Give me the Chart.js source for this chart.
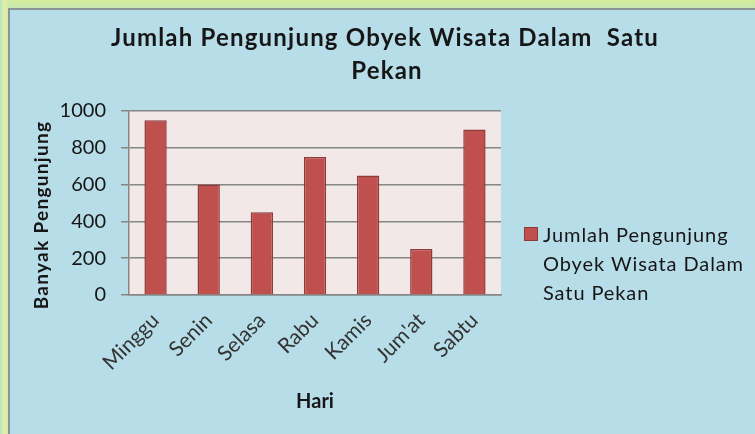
<!DOCTYPE html>
<html>
<head>
<meta charset="utf-8">
<script src="https://cdn.jsdelivr.net/npm/chart.js@4.4.1/dist/chart.umd.min.js"></script>
<style>
  html, body { margin: 0; padding: 0; background: #b7dde8; }
  #wrap { width: 755px; height: 434px; position: relative; }
</style>
</head>
<body>
<div id="wrap"><canvas id="chart"></canvas></div>
<script>
// data
const days = ['Minggu', 'Senin', 'Selasa', 'Rabu', 'Kamis', "Jum'at", 'Sabtu'];
const visitors = [950, 600, 450, 750, 650, 250, 900];
const yMin = 0;
const yMax = 1000;
const yStep = 200;
const chartTitle = ['Jumlah Pengunjung Obyek Wisata Dalam  Satu', 'Pekan'];
const seriesName = 'Jumlah Pengunjung Obyek Wisata Dalam Satu Pekan';
const legendLines = ['Jumlah Pengunjung', 'Obyek Wisata Dalam', 'Satu Pekan'];
const yTitle = 'Banyak Pengunjung';
const xTitle = 'Hari';

const FONT = 'Lato, "Open Sans", sans-serif';
const BAR = '#c0504d';
const BAR_EDGE = '#8e3a38';
const GRID = '#868686';

// frame, plot background, title, y title and wrapped legend (Excel style)
const excelDecor = {
  id: 'excelDecor',
  beforeDraw(chart) {
    const { ctx, chartArea: a, width, height } = chart;
    ctx.save();
    ctx.fillStyle = '#b7dde8';
    ctx.fillRect(0, 0, width, height);
    let g = ctx.createLinearGradient(0, 0, 0, 9);
    g.addColorStop(0, '#d6ec9a');
    g.addColorStop(1, '#c4e6b4');
    ctx.fillStyle = g;
    ctx.fillRect(0, 0, width, 8);
    g = ctx.createLinearGradient(0, 0, 9, 0);
    g.addColorStop(0, '#b8e0c8');
    g.addColorStop(0.5, '#e4f0a0');
    g.addColorStop(1, '#c8e8b0');
    ctx.fillStyle = g;
    ctx.fillRect(0, 0, 8, height);
    ctx.fillStyle = '#8a9498';
    ctx.fillRect(8, 8, width - 8, 2);
    ctx.fillRect(8, 8, 2, height - 8);
    ctx.fillStyle = '#f2e8e8';
    ctx.fillRect(a.left, a.top, a.right - a.left, a.bottom - a.top);
    ctx.restore();
  },
  afterDraw(chart) {
    const { ctx, chartArea: a } = chart;
    ctx.save();
    ctx.fillStyle = '#161616';
    ctx.textAlign = 'center';
    ctx.textBaseline = 'alphabetic';
    ctx.font = 'bold 24px ' + FONT;
    ctx.letterSpacing = '1.2px';
    ctx.fillText(chartTitle[0], 385, 46);
    ctx.fillText(chartTitle[1], 387, 79);

    ctx.translate(42, 215);
    ctx.rotate(-Math.PI / 2);
    ctx.textBaseline = 'middle';
    ctx.font = 'bold 19px ' + FONT;
    ctx.letterSpacing = '1.3px';
    ctx.fillText(yTitle, 0, 0);
    ctx.restore();

    ctx.save();
    const lx = a.right + 23;
    ctx.fillStyle = BAR;
    ctx.strokeStyle = BAR_EDGE;
    ctx.lineWidth = 1;
    ctx.fillRect(lx, 227, 14, 14);
    ctx.strokeRect(lx + 0.5, 227.5, 13, 13);
    ctx.fillStyle = '#161616';
    ctx.font = '20px ' + FONT;
    ctx.letterSpacing = '0.9px';
    ctx.textAlign = 'left';
    legendLines.forEach((line, i) => ctx.fillText(line, lx + 19, 242 + i * 29));
    ctx.restore();
  }
};

new Chart(document.getElementById('chart'), {
  type: 'bar',
  data: {
    labels: days,
    datasets: [{
      label: seriesName,
      data: visitors,
      backgroundColor: BAR,
      borderColor: BAR_EDGE,
      borderWidth: 1.5,
      borderSkipped: 'bottom',
      categoryPercentage: 1,
      barPercentage: 0.42
    }]
  },
  options: {
    responsive: true,
    maintainAspectRatio: false,
    animation: false,
    layout: { padding: { top: 111, right: 254, bottom: 0, left: 0 } },
    plugins: {
      legend: { display: false },
      title: { display: false },
      tooltip: { enabled: false }
    },
    scales: {
      x: {
        grid: { display: false, drawTicks: false },
        border: { display: true, color: GRID, width: 1.5 },
        ticks: {
          maxRotation: 45,
          minRotation: 45,
          padding: 13,
          color: '#333333',
          font: { family: FONT, size: 21 }
        },
        title: {
          display: true,
          text: xTitle,
          color: '#161616',
          font: { family: FONT, size: 20, weight: 'bold' },
          padding: { top: 0, bottom: 20 }
        },
        afterFit(scale) { scale.height = 139; }
      },
      y: {
        min: yMin,
        max: yMax,
        ticks: {
          stepSize: yStep,
          padding: 15,
          color: '#161616',
          font: { family: FONT, size: 20 },
          callback: (v) => String(v)
        },
        grid: { color: GRID, lineWidth: 1.5, tickLength: 8 },
        border: { display: true, color: GRID, width: 1.5 },
        afterFit(scale) { scale.width = 129; }
      }
    }
  },
  plugins: [excelDecor]
});
</script>
</body>
</html>
